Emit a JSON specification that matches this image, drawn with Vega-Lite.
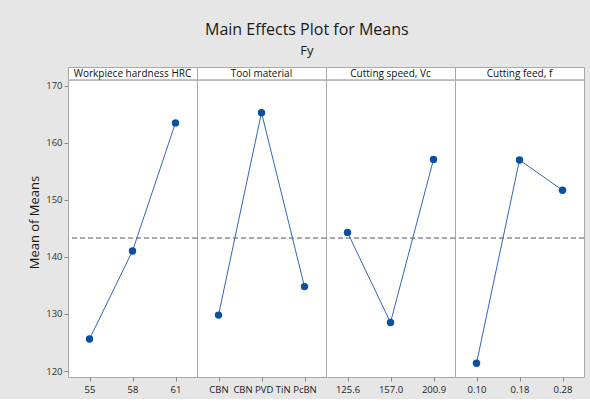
{
  "$schema": "https://vega.github.io/schema/vega-lite/v6.json",
  "background": "#e6e6e6",
  "padding": {"left": 28, "top": 21, "right": 7, "bottom": 5},
  "bounds": "flush",
  "title": {
    "text": "Main Effects Plot for Means",
    "subtitle": "Fy",
    "font": "Open Sans",
    "subtitleFont": "Open Sans",
    "fontSize": 16,
    "subtitleFontSize": 13,
    "fontWeight": "normal",
    "color": "#1a1a1a",
    "subtitleColor": "#1a1a1a",
    "anchor": "middle",
    "frame": "bounds",
    "offset": 9,
    "subtitlePadding": 7
  },
  "data": {
    "values": [
      {"factor": "Workpiece hardness HRC", "level": "55", "order": 1, "mean": 125.6},
      {"factor": "Workpiece hardness HRC", "level": "58", "order": 2, "mean": 141.05},
      {"factor": "Workpiece hardness HRC", "level": "61", "order": 3, "mean": 163.5},
      {"factor": "Tool material", "level": "CBN", "order": 1, "mean": 129.8},
      {"factor": "Tool material", "level": "CBN PVD TiN", "order": 2, "mean": 165.3},
      {"factor": "Tool material", "level": "PcBN", "order": 3, "mean": 134.8},
      {"factor": "Cutting speed, Vc", "level": "125.6", "order": 1, "mean": 144.3},
      {"factor": "Cutting speed, Vc", "level": "157.0", "order": 2, "mean": 128.5},
      {"factor": "Cutting speed, Vc", "level": "200.9", "order": 3, "mean": 157.1},
      {"factor": "Cutting feed, f", "level": "0.10", "order": 1, "mean": 121.35},
      {"factor": "Cutting feed, f", "level": "0.18", "order": 2, "mean": 157.0},
      {"factor": "Cutting feed, f", "level": "0.28", "order": 3, "mean": 151.7}
    ]
  },
  "facet": {
    "column": {
      "field": "factor",
      "type": "nominal",
      "sort": ["Workpiece hardness HRC", "Tool material", "Cutting speed, Vc", "Cutting feed, f"],
      "header": {"labels": false, "title": null}
    }
  },
  "spacing": 0,
  "resolve": {"scale": {"x": "independent"}},
  "spec": {
    "width": 129,
    "height": 310,
    "layer": [
      {
        "mark": {"type": "rule", "color": "#9a9a9a", "strokeDash": [5, 3], "strokeWidth": 1},
        "encoding": {"y": {"datum": 143.3, "type": "quantitative", "title": "Mean of Means"}}
      },
      {
        "mark": {"type": "rule", "color": "#b4b4b4", "strokeWidth": 1},
        "encoding": {"y": {"datum": 171.0, "type": "quantitative", "title": "Mean of Means"}}
      },
      {
        "transform": [{"filter": "datum.order == 1"}],
        "mark": {"type": "text", "font": "Open Sans", "fontSize": 10, "color": "#111111", "baseline": "middle", "align": "center"},
        "encoding": {
          "y": {"datum": 172.15, "type": "quantitative", "title": "Mean of Means"},
          "text": {"field": "factor"}
        }
      },
      {
        "mark": {"type": "line", "color": "#3565b5", "strokeWidth": 1},
        "encoding": {
          "x": {
            "field": "level", "type": "ordinal", "sort": null,
            "scale": {"type": "point", "padding": 0.5},
            "axis": {"title": null, "labelAngle": 0, "domain": false, "tickColor": "#8a8a8a", "tickSize": 4, "labelFont": "Open Sans", "labelFontSize": 9.5, "labelColor": "#222", "labelPadding": 3}
          },
          "y": {
            "field": "mean", "type": "quantitative", "title": "Mean of Means",
            "scale": {"domain": [118.95, 173.3], "nice": false, "zero": false},
            "axis": {"values": [120, 130, 140, 150, 160, 170], "grid": false, "domain": false, "tickColor": "#8a8a8a", "tickSize": 4, "labelPadding": 2, "labelFont": "Open Sans", "labelFontSize": 9.5, "labelColor": "#333", "titleFont": "Open Sans", "titleFontSize": 13, "titleFontWeight": "normal", "titleColor": "#1a1a1a", "titlePadding": 4}
          }
        }
      },
      {
        "mark": {"type": "point", "filled": true, "size": 55, "color": "#0a4fa0", "opacity": 1},
        "encoding": {
          "x": {"field": "level", "type": "ordinal", "sort": null},
          "y": {"field": "mean", "type": "quantitative", "title": "Mean of Means"}
        }
      }
    ]
  },
  "config": {
    "view": {"stroke": "#a8a8a8", "fill": "white"}
  }
}
